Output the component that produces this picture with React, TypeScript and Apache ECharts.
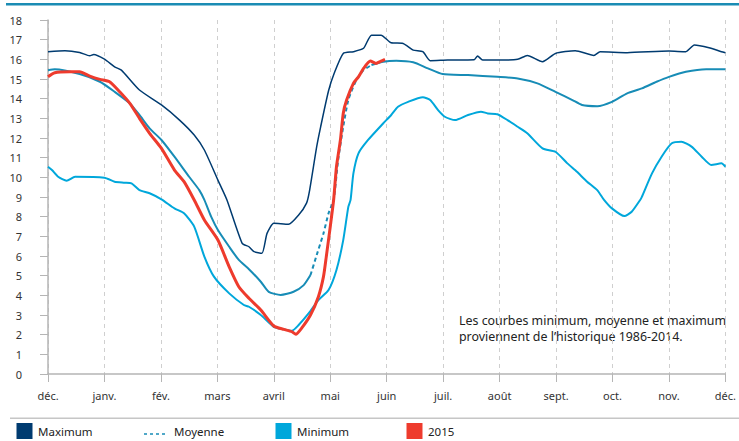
import React, { useEffect, useRef } from "react";
import * as echarts from "echarts";

const monthLabels = ["déc.", "janv.", "fév.", "mars", "avril", "mai", "juin", "juil.", "août", "sept.", "oct.", "nov.", "déc."];

// [month offset from 1 Dec, value]
const maximum: [number, number][] = [
  [0, 16.39], [0.3, 16.44], [0.56, 16.35], [0.74, 16.18], [0.81, 16.25], [1.0, 16.01], [1.18, 15.62],
  [1.3, 15.45], [1.62, 14.44], [2.01, 13.68], [2.33, 12.91], [2.59, 12.15], [2.77, 11.39], [3.01, 9.86],
  [3.17, 8.85], [3.44, 6.64], [3.56, 6.47], [3.65, 6.22], [3.79, 6.14], [3.88, 7.15], [4.0, 7.66],
  [4.26, 7.61], [4.44, 8.08], [4.58, 8.69], [4.63, 9.27], [4.76, 11.56], [4.83, 12.57], [4.97, 14.4],
  [5.07, 15.29], [5.23, 16.3], [5.41, 16.39], [5.59, 16.56], [5.73, 17.23], [5.9, 17.23], [6.08, 16.84],
  [6.29, 16.81], [6.47, 16.47], [6.64, 16.39], [6.77, 15.93], [7.08, 15.96], [7.55, 15.98], [7.61, 16.17],
  [7.7, 15.96], [7.96, 15.96], [8.32, 16.0], [8.49, 16.2], [8.76, 15.88], [8.99, 16.3], [9.34, 16.44],
  [9.67, 16.2], [9.78, 16.39], [10.26, 16.34], [11.0, 16.42], [11.3, 16.39], [11.45, 16.73],
  [11.71, 16.59], [11.93, 16.39], [12.0, 16.34],
];

const moyenne: [number, number][] = [
  [0, 15.45], [0.12, 15.49], [0.56, 15.25], [0.92, 14.86], [1.18, 14.35], [1.45, 13.76], [1.62, 13.17],
  [1.8, 12.49], [2.01, 11.9], [2.24, 11.05], [2.5, 10.03], [2.68, 9.35], [2.77, 8.85], [2.89, 8.0],
  [3.01, 7.32], [3.21, 6.47], [3.38, 5.8], [3.56, 5.33], [3.77, 4.69], [3.91, 4.18], [4.12, 4.02],
  [4.35, 4.18], [4.53, 4.52], [4.65, 5.03], [4.76, 6.05], [4.88, 7.15], [4.97, 8.17], [5.06, 8.85],
  [5.14, 10.88], [5.23, 12.57], [5.32, 13.93], [5.46, 14.94], [5.59, 15.45], [5.73, 15.71], [5.94, 15.88],
  [6.17, 15.93], [6.47, 15.85], [6.73, 15.54], [6.99, 15.25], [7.44, 15.2], [7.96, 15.11], [8.32, 15.03],
  [8.67, 14.78], [8.99, 14.35], [9.29, 13.93], [9.46, 13.68], [9.73, 13.62], [9.99, 13.84], [10.26, 14.27],
  [10.52, 14.52], [10.78, 14.86], [11.0, 15.11], [11.3, 15.37], [11.66, 15.5], [12.0, 15.49],
];

const minimum: [number, number][] = [
  [0, 10.54], [0.07, 10.37], [0.18, 10.03], [0.33, 9.83], [0.48, 10.03], [1.0, 9.98], [1.18, 9.78],
  [1.36, 9.73], [1.48, 9.69], [1.62, 9.35], [1.8, 9.19], [2.01, 8.88], [2.24, 8.42], [2.41, 8.17],
  [2.59, 7.49], [2.77, 5.97], [2.94, 4.95], [3.21, 4.1], [3.47, 3.51], [3.56, 3.42], [3.77, 3.0],
  [4.0, 2.4], [4.18, 2.27], [4.32, 2.2], [4.44, 2.49], [4.62, 3.09], [4.79, 3.76], [4.97, 4.27],
  [5.11, 5.29], [5.23, 6.81], [5.32, 8.5], [5.36, 8.85], [5.41, 10.2], [5.5, 11.22], [5.67, 11.9],
  [5.94, 12.75], [6.08, 13.17], [6.2, 13.59], [6.38, 13.84], [6.64, 14.07], [6.77, 13.93], [6.91, 13.42],
  [7.03, 13.08], [7.21, 12.91], [7.44, 13.17], [7.67, 13.34], [7.79, 13.25], [7.96, 13.21], [8.14, 12.91],
  [8.32, 12.57], [8.49, 12.24], [8.76, 11.47], [8.99, 11.3], [9.2, 10.71], [9.37, 10.28], [9.55, 9.78],
  [9.73, 9.35], [9.85, 8.85], [9.99, 8.42], [10.21, 8.03], [10.34, 8.25], [10.49, 8.85], [10.52, 9.01],
  [10.7, 10.2], [10.87, 11.05], [11.05, 11.73], [11.22, 11.81], [11.4, 11.56], [11.58, 11.05],
  [11.75, 10.63], [11.93, 10.71], [12.0, 10.54],
];

const year2015: [number, number][] = [
  [0, 15.11], [0.12, 15.32], [0.39, 15.37], [0.56, 15.37], [0.74, 15.15], [0.92, 14.98], [1.09, 14.86],
  [1.27, 14.35], [1.45, 13.76], [1.62, 13.0], [1.8, 12.24], [2.01, 11.47], [2.24, 10.37], [2.41, 9.78],
  [2.59, 8.85], [2.77, 7.83], [3.01, 6.81], [3.21, 5.45], [3.38, 4.44], [3.56, 3.85], [3.77, 3.25],
  [4.0, 2.44], [4.18, 2.27], [4.32, 2.15], [4.39, 2.02], [4.49, 2.32], [4.65, 3.0], [4.79, 3.93],
  [4.88, 4.95], [4.93, 5.97], [5.0, 7.49], [5.06, 8.85], [5.11, 10.54], [5.18, 11.9], [5.23, 13.25],
  [5.29, 13.93], [5.41, 14.78], [5.5, 15.11], [5.59, 15.54], [5.71, 15.91], [5.81, 15.79], [5.88, 15.88],
  [5.97, 16.0],
];

const dashStart = 4.65;
const dashEnd = 5.73;

const C_MAX = "#003b70";
const C_MOY = "#178cb6";
const C_MIN = "#00a7db";
const C_2015 = "#ee3b2d";
const FONT = "Noto Sans";

export default function App() {
  const ref = useRef<HTMLDivElement>(null);
  useEffect(() => {
    if (!ref.current) return;
    const chart = echarts.init(ref.current, undefined, { renderer: "svg" });
    const moyA = moyenne.filter((p) => p[0] <= dashStart);
    const moyB = moyenne.filter((p) => p[0] >= dashStart && p[0] <= dashEnd);
    const moyC = moyenne.filter((p) => p[0] >= dashEnd);
    const lineBase = { type: "line", showSymbol: false, symbol: "none", smooth: 0.2, silent: true };
    const legendText = { fontSize: 11.5, fontFamily: FONT, fill: "#222", verticalAlign: "middle" };
    chart.setOption({
      animation: false,
      grid: { left: 48, right: 10, top: 20, bottom: 67 },
      xAxis: {
        type: "value",
        min: 0,
        max: 12,
        interval: 1,
        axisLine: { show: true, lineStyle: { color: "#b5b5b5", width: 1.5 } },
        axisTick: { show: true, length: 8, lineStyle: { color: "#b5b5b5" } },
        axisLabel: {
          margin: 16,
          color: "#333",
          fontSize: 11,
          fontFamily: FONT,
          formatter: (v: number) => monthLabels[Math.round(v)] ?? "",
        },
        splitLine: { show: true, lineStyle: { color: "#cfcfcf", type: [4, 4], width: 1 } },
      },
      yAxis: {
        type: "value",
        min: 0,
        max: 18,
        interval: 1,
        axisLine: { show: true, lineStyle: { color: "#b5b5b5", width: 1.5 } },
        axisTick: { show: true, length: 8, lineStyle: { color: "#b5b5b5" } },
        axisLabel: { margin: 26, color: "#333", fontSize: 11, fontFamily: FONT },
        splitLine: { show: false },
      },
      series: [
        { ...lineBase, name: "Minimum", data: minimum, lineStyle: { color: C_MIN, width: 2 } },
        { ...lineBase, name: "Moyenne", data: moyA, lineStyle: { color: C_MOY, width: 2 } },
        { ...lineBase, name: "Moyenne", data: moyB, lineStyle: { color: C_MOY, width: 2, type: [4, 3] } },
        { ...lineBase, name: "Moyenne", data: moyC, lineStyle: { color: C_MOY, width: 2 } },
        { ...lineBase, name: "Maximum", data: maximum, lineStyle: { color: C_MAX, width: 1.5 } },
        { ...lineBase, name: "2015", data: year2015, lineStyle: { color: C_2015, width: 3 } },
      ],
      graphic: [
        { type: "rect", shape: { x: 6, y: 3, width: 733, height: 2.5 }, style: { fill: "#1a8cb4" } },
        { type: "rect", shape: { x: 10, y: 417.5, width: 729, height: 1.5 }, style: { fill: "#c6c6c6" } },
        {
          type: "text",
          x: 459,
          y: 312.5,
          style: {
            text: "Les courbes minimum, moyenne et maximum\nproviennent de l’historique 1986-2014.",
            fontSize: 12.4,
            lineHeight: 16,
            fontFamily: FONT,
            fill: "#222",
          },
        },
        { type: "rect", shape: { x: 16.5, y: 423, width: 16, height: 16 }, style: { fill: C_MAX } },
        { type: "text", x: 38, y: 431, style: { text: "Maximum", ...legendText } },
        { type: "line", shape: { x1: 144, y1: 434, x2: 167, y2: 434 }, style: { stroke: C_MOY, lineWidth: 1.5, lineDash: [3, 3] } },
        { type: "text", x: 174, y: 431, style: { text: "Moyenne", ...legendText } },
        { type: "rect", shape: { x: 275.5, y: 423, width: 16, height: 16 }, style: { fill: C_MIN } },
        { type: "text", x: 297, y: 431, style: { text: "Minimum", ...legendText } },
        { type: "rect", shape: { x: 406.5, y: 423, width: 16, height: 16 }, style: { fill: C_2015 } },
        { type: "text", x: 428, y: 431, style: { text: "2015", ...legendText } },
      ],
    });
    return () => chart.dispose();
  }, []);
  return (
    <div
      ref={ref}
      style={{ position: "fixed", left: 0, top: 0, width: 739, height: 441, background: "#fff" }}
    />
  );
}
